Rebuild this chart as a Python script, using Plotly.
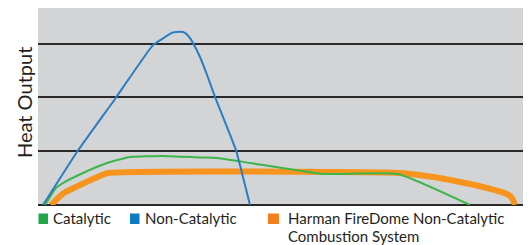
import plotly.graph_objects as go

# Data (x: relative burn time 0-100, y: heat output units)
noncat_x = [1.03, 8.04, 15.88, 23.71, 26.19, 27.63, 29.28, 30.31, 31.34, 32.37, 33.40, 34.85, 36.49, 38.56, 40.82, 42.27, 43.71]
noncat_y = [0.0, 0.985, 1.97, 2.97, 3.12, 3.20, 3.22, 3.20, 3.10, 2.94, 2.75, 2.42, 2.01, 1.54, 1.02, 0.52, 0.0]

cat_x = [1.44, 2.47, 3.51, 5.15, 9.28, 14.23, 18.97, 25.77, 33.40, 36.91, 43.71, 58.76, 74.23, 89.07]
cat_y = [0.0, 0.149, 0.297, 0.409, 0.595, 0.781, 0.892, 0.911, 0.883, 0.874, 0.781, 0.576, 0.576, 0.0]

harman_x = [2.68, 3.71, 5.36, 8.25, 11.34, 14.43, 74.64, 81.44, 87.01, 91.75, 96.70, 97.73, 98.35]
harman_y = [0.0, 0.093, 0.223, 0.353, 0.483, 0.595, 0.595, 0.520, 0.428, 0.335, 0.204, 0.130, 0.0]

series_names = ["Catalytic", "Non-Catalytic", "Harman FireDome Non-Catalytic<br>Combustion System"]
y_title = "Heat Output"

C_GREEN = "#3db54a"
C_BLUE = "#2a7dc2"
C_ORANGE = "#f7941d"
SW_GREEN = "#1fa64b"
SW_BLUE = "#0b7cc1"
SW_ORANGE = "#f47d20"

fig = go.Figure()
fig.add_trace(go.Scatter(x=harman_x, y=harman_y, mode="lines",
                         line=dict(color=C_ORANGE, width=6, shape="spline", smoothing=0.4),
                         name=series_names[2], showlegend=False))
fig.add_trace(go.Scatter(x=cat_x, y=cat_y, mode="lines",
                         line=dict(color=C_GREEN, width=2, shape="spline", smoothing=0.4),
                         name=series_names[0], showlegend=False))
fig.add_trace(go.Scatter(x=noncat_x, y=noncat_y, mode="lines",
                         line=dict(color=C_BLUE, width=2, shape="spline", smoothing=0.4),
                         name=series_names[1], showlegend=False))

# The page body has an 8px default margin, so the figure is drawn 8px in and down.
OFF = 8
W, H = 531 - OFF, 245 - OFF
L, R, T, B = 38 - OFF, 8, 8 - OFF, 40
pw, ph = W - L - R, H - T - B

def px(xp):
    # xp: window pixel x
    return (xp - OFF - L) / pw

def py(yp):
    # yp: window pixel y
    return (H - B - (yp - OFF)) / ph

FONT = "Lato"
TXT = "#231f20"
LEG_SIZE = 15
LINE_STEP = 18.3
shapes = []
annotations = []
legend_items = [
    (SW_GREEN, 38.5, 48, series_names[0], 52),
    (SW_BLUE, 130, 139.5, series_names[1], 144),
    (SW_ORANGE, 268, 279, series_names[2], 287),
]
for col, x0, x1, name, tx in legend_items:
    shapes.append(dict(type="rect", xref="paper", yref="paper",
                       x0=px(x0), x1=px(x1), y0=py(224), y1=py(213.5),
                       fillcolor=col, line=dict(width=0), layer="above"))
    for i, line in enumerate(name.split("<br>")):
        annotations.append(dict(xref="paper", yref="paper", x=px(tx), y=py(207.9 + LINE_STEP * i),
                                xanchor="left", yanchor="top", text=line, showarrow=False,
                                borderpad=0, align="left",
                                font=dict(family=FONT, size=LEG_SIZE, color=TXT)))

annotations.append(dict(xref="paper", yref="paper", x=px(24), y=py(103),
                        xanchor="center", yanchor="middle", text=y_title, textangle=-90,
                        showarrow=False, font=dict(family=FONT, size=20, color=TXT)))

fig.update_layout(
    width=W, height=H,
    margin=dict(l=L, r=R, t=T, b=B, pad=0),
    paper_bgcolor="white", plot_bgcolor="#d3d4d6",
    showlegend=False,
    shapes=shapes, annotations=annotations,
    xaxis=dict(range=[0, 100], showgrid=False, zeroline=False, showticklabels=False,
               ticks="", showline=False, fixedrange=True),
    yaxis=dict(range=[0, 3.66], dtick=1, tick0=0, showgrid=True, gridcolor="#2b2828",
               gridwidth=1.5, zeroline=True, zerolinecolor="#2b2828", zerolinewidth=2,
               showticklabels=False, ticks="", showline=False, fixedrange=True),
)
fig.write_html("out.html")
